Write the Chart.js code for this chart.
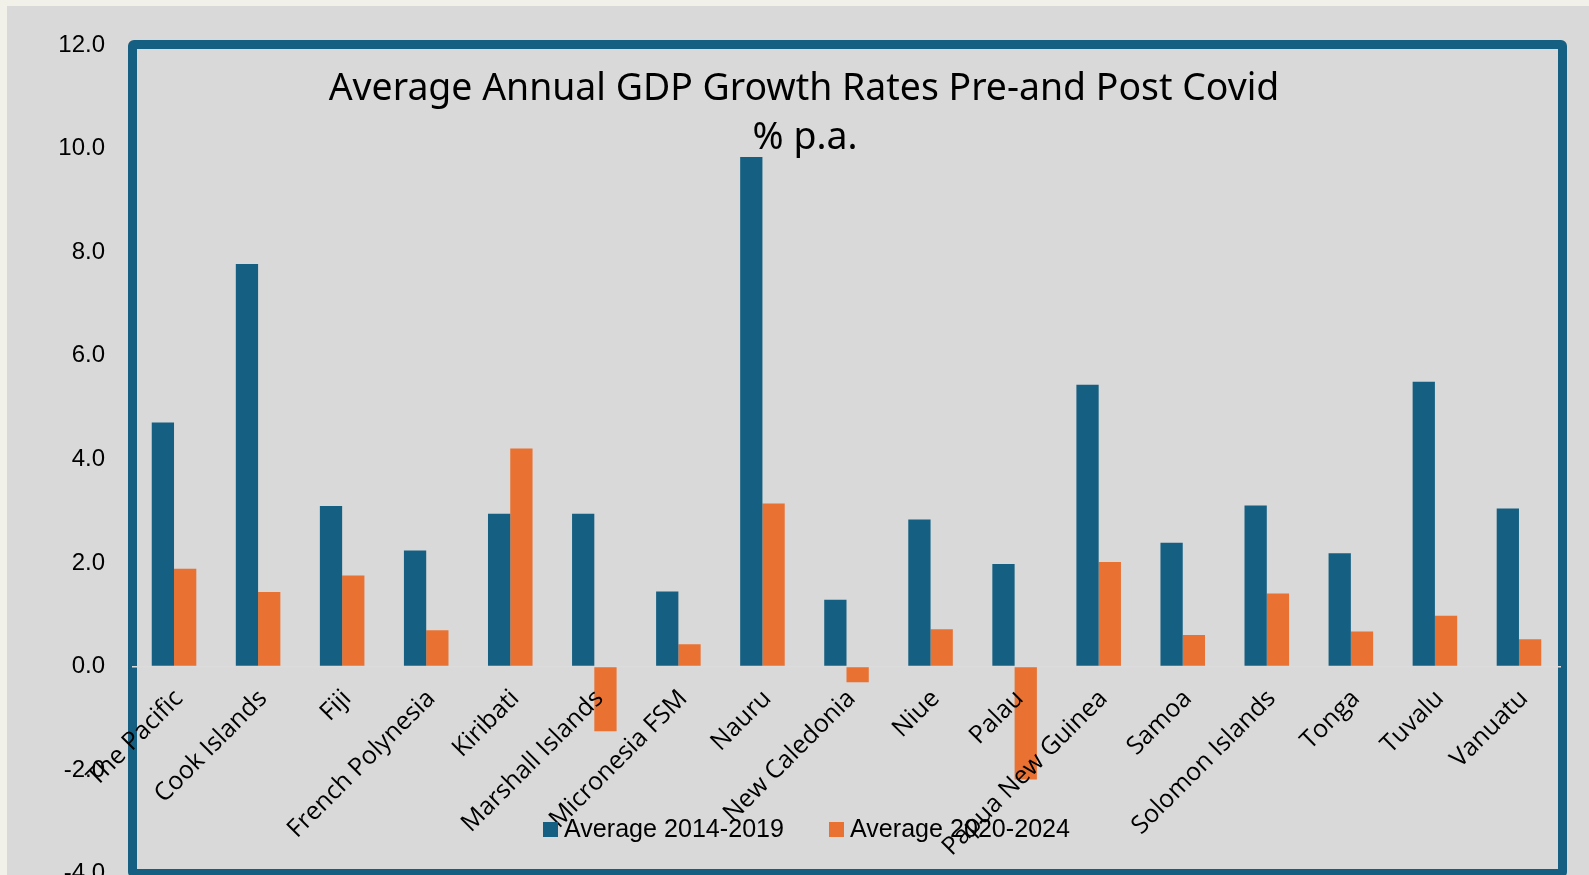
<!DOCTYPE html>
<html>
<head>
<meta charset="utf-8">
<title>Average Annual GDP Growth Rates Pre-and Post Covid</title>
<script src="https://cdn.jsdelivr.net/npm/chart.js@4.4.1/dist/chart.umd.min.js"></script>
<style>
  html, body { margin: 0; padding: 0; }
  body { width: 1589px; height: 875px; background: #f1f1e9; overflow: hidden; position: relative; }
  #panel { position: absolute; left: 7px; top: 6px; right: 0; bottom: 0; background: #d9d9d9; }
  #frame { position: absolute; left: 128px; top: 40px; width: 1439px; height: 838px; box-sizing: border-box; border: 9px solid #156082; border-radius: 6px; }
  #wrap { position: absolute; left: 0; top: 0; width: 1589px; height: 902px; }
</style>
</head>
<body>
<div id="panel"></div>
<div id="frame"></div>
<div id="wrap"><canvas id="gdpChart"></canvas></div>
<script>
// Categorias y valores (% anual)
const countries = ["The Pacific", "Cook Islands", "Fiji", "French Polynesia", "Kiribati", "Marshall Islands",
  "Micronesia FSM", "Nauru", "New Caledonia", "Niue", "Palau", "Papua New Guinea", "Samoa",
  "Solomon Islands", "Tonga", "Tuvalu", "Vanuatu"];
const avg2014to2019 = [4.71, 7.77, 3.10, 2.24, 2.95, 2.95, 1.45, 9.84, 1.29, 2.84, 1.98, 5.44, 2.39, 3.11, 2.19, 5.50, 3.05];
const avg2020to2024 = [1.89, 1.44, 1.76, 0.70, 4.21, -1.25, 0.43, 3.15, -0.30, 0.72, -2.18, 2.02, 0.61, 1.41, 0.68, 0.98, 0.53];
const seriesNames = ["Average 2014-2019", "Average 2020-2024"];
const yTicks = [-4, -2, 0, 2, 4, 6, 8, 10, 12];
const titleLines = ["Average Annual GDP Growth Rates Pre-and Post Covid", "% p.a."];

const TEAL = "#156082";
const ORANGE = "#e97132";

// Titulo, etiquetas giradas y leyenda dibujadas encima de las barras
const overlayText = {
  id: "overlayText",
  afterDatasetsDraw(chart) {
    const { ctx, scales: { x, y } } = chart;
    const zeroY = y.getPixelForValue(0);
    ctx.save();
    ctx.fillStyle = "#000";

    // etiquetas de categorias a 45 grados
    ctx.font = '25px "Open Sans"';
    ctx.textAlign = "right";
    ctx.textBaseline = "alphabetic";
    countries.forEach((name, i) => {
      const cx = x.getPixelForValue(i);
      ctx.save();
      ctx.translate(cx + 10, zeroY + 33);
      ctx.rotate(-Math.PI / 4);
      ctx.fillText(name, 0, 0);
      ctx.restore();
    });

    // titulo
    ctx.textAlign = "center";
    ctx.font = '38px "Noto Sans"';
    const w = ctx.measureText(titleLines[0]).width;
    const size = 38 * 950 / w;
    ctx.font = size.toFixed(1) + 'px "Noto Sans"';
    ctx.fillText(titleLines[0], 804, 100);
    ctx.fillText(titleLines[1], 805, 149);

    // leyenda (texto estrecho)
    ctx.textAlign = "left";
    ctx.font = '26px "Liberation Sans"';
    const squeeze = 220 / ctx.measureText(seriesNames[0]).width;
    let lx = 543;
    chart.data.datasets.forEach((ds) => {
      ctx.fillStyle = ds.backgroundColor;
      ctx.fillRect(lx, 822, 15, 15);
      ctx.fillStyle = "#000";
      ctx.save();
      ctx.translate(lx + 21, 837);
      ctx.scale(squeeze, 1);
      ctx.fillText(ds.label, 0, 0);
      ctx.restore();
      lx += 21 + ctx.measureText(ds.label).width * squeeze + 45;
    });
    ctx.restore();
  }
};

const ctx = document.getElementById("gdpChart").getContext("2d");
const gdpChart = new Chart(ctx, {
  type: "bar",
  data: {
    labels: countries,
    datasets: [
      { label: seriesNames[0], data: avg2014to2019, backgroundColor: TEAL },
      { label: seriesNames[1], data: avg2020to2024, backgroundColor: ORANGE },
    ],
  },
  options: {
    responsive: true,
    maintainAspectRatio: false,
    animation: false,
    layout: { padding: { left: 0, top: 45, right: 28, bottom: 3 } },
    datasets: { bar: { barPercentage: 1.0, categoryPercentage: 0.53, borderWidth: 0 } },
    scales: {
      x: { display: false },
      y: {
        min: -4,
        max: 12,
        afterBuildTicks: (scale) => { scale.ticks = yTicks.map((v) => ({ value: v })); },
        afterFit: (scale) => { scale.width = 132; },
        border: { display: false },
        grid: {
          drawTicks: false,
          color: (c) => (c.tick && c.tick.value === 0 ? "#dcdcdc" : "rgba(0,0,0,0)"),
          lineWidth: 1.5,
        },
        ticks: {
          padding: 27,
          color: "#000",
          font: { family: '"Liberation Sans"', size: 24, lineHeight: 0.1 },
          callback: (v) => Number(v).toFixed(1),
        },
      },
    },
    plugins: {
      legend: { display: false },
      title: { display: false },
      tooltip: { enabled: false },
    },
  },
  plugins: [overlayText],
});
</script>
</body>
</html>
